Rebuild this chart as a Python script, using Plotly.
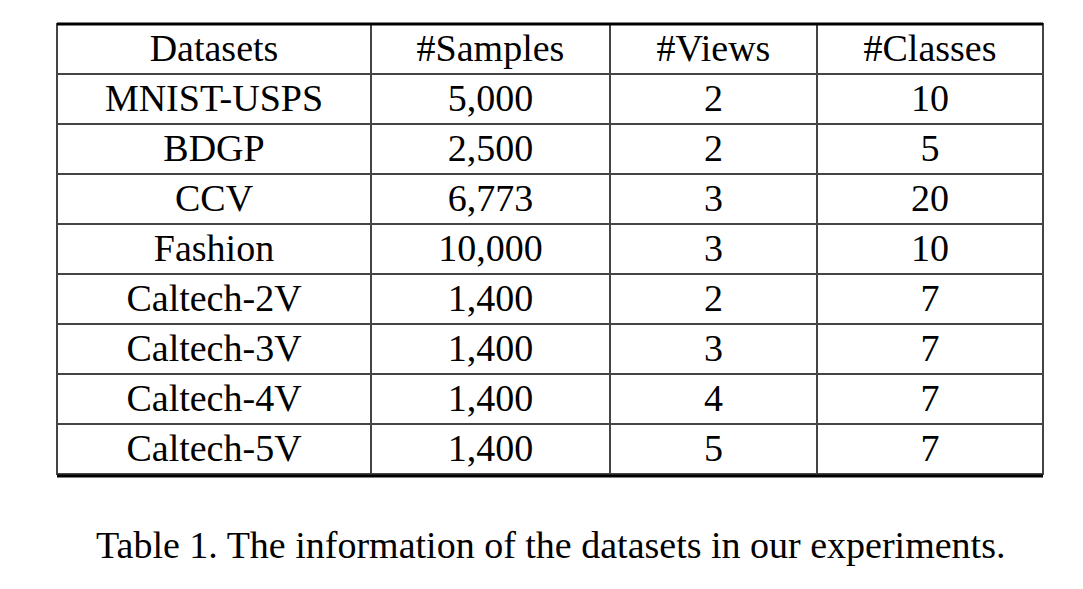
import plotly.graph_objects as go

headers = ["Datasets", "#Samples", "#Views", "#Classes"]
datasets = ["MNIST-USPS", "BDGP", "CCV", "Fashion", "Caltech-2V", "Caltech-3V", "Caltech-4V", "Caltech-5V"]
samples = ["5,000", "2,500", "6,773", "10,000", "1,400", "1,400", "1,400", "1,400"]
views = ["2", "2", "3", "3", "2", "3", "4", "5"]
classes = ["10", "5", "20", "10", "7", "7", "7", "7"]
caption = "Table 1. The information of the datasets in our experiments."

W, H = 1083, 589
off = 8
x0, x1, ytop, ybot = 57 - off, 1043 - off, 24 - off, 476 - off
font = dict(family="Liberation Serif", size=38, color="black")

fig = go.Figure(go.Table(
    columnwidth=[314, 239, 207, 226],
    header=dict(values=headers, height=50, align="center", font=font,
                fill_color="white", line=dict(color="#444", width=1.5)),
    cells=dict(values=[datasets, samples, views, classes], height=50, align="center",
               font=font, fill_color="white", line=dict(color="#444", width=1.5)),
    domain=dict(x=[x0 / W, x1 / W], y=[1 - ybot / H - 0.01, 1 - ytop / H]),
))
for yy in (ytop, ybot):
    fig.add_shape(type="line", xref="paper", yref="paper", x0=x0 / W, x1=x1 / W,
                  y0=1 - yy / H, y1=1 - yy / H, line=dict(color="black", width=3))
fig.add_annotation(text=caption, xref="paper", yref="paper", x=(550 - off) / W, y=1 - (545 - off) / H,
                   showarrow=False, font=font, xanchor="center", yanchor="middle")
fig.update_layout(width=W, height=H, margin=dict(l=0, r=0, t=0, b=0),
                  paper_bgcolor="white", plot_bgcolor="white")
fig.write_html("out.html")
